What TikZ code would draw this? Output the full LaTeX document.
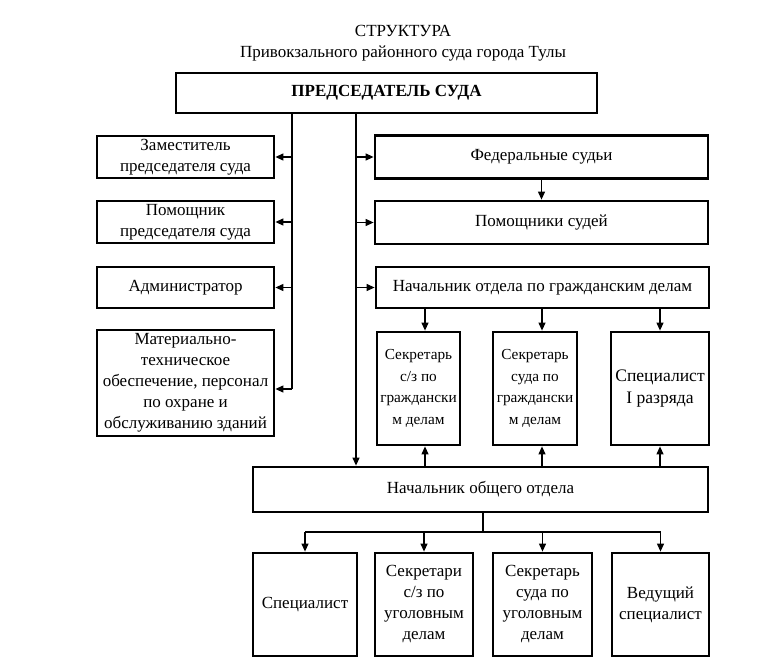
\documentclass[tikz,border=0pt]{standalone}
\usepackage{fontspec}
\setmainfont{Liberation Serif}
\usetikzlibrary{arrows.meta,positioning,calc}

\begin{document}
\begin{tikzpicture}[
    x=1pt, y=-1pt,
    box/.style={draw, line width=2.8pt, align=center, inner sep=1pt, font=\fontsize{17}{21}\selectfont},
    narrow/.style={font=\fontsize{15.3}{21.5}\selectfont},
    wide/.style={font=\fontsize{17.6}{22}\selectfont},
    conn/.style={line width=1.2pt},
    arr/.style={line width=1.2pt, -{Triangle[length=8pt,width=7pt]}}
]
\useasboundingbox (0,0) rectangle (784,669);
% title
\node[anchor=base, font=\fontsize{17}{20}\selectfont] (title) at (403,37) {СТРУКТУРА};
\node[anchor=base, font=\fontsize{17}{20}\selectfont] (subtitle) at (403,58) {Привокзального районного суда города Тулы};

% top
\node[box, minimum width=421, minimum height=40] (pred) at (386.5,93) {\textbf{ПРЕДСЕДАТЕЛЬ СУДА}};

% left column
\node[box, minimum width=177, minimum height=42] (zam) at (185.5,157) {Заместитель\\председателя суда};
\node[box, minimum width=177, minimum height=42] (pomp) at (185.5,222) {Помощник\\председателя суда};
\node[box, minimum width=177, minimum height=41] (adm) at (185.5,287.5) {Администратор};
\node[box, minimum width=177, minimum height=106] (mat) at (185.5,383) {Материально-\\техническое\\обеспечение, персонал\\по охране и\\обслуживанию зданий};

% right column
\node[box, minimum width=333, minimum height=43] (fed) at (541.5,157) {Федеральные судьи};
\node[box, minimum width=333, minimum height=43] (poms) at (541.5,222.5) {Помощники судей};
\node[box, minimum width=333, minimum height=41] (nachg) at (542.5,287.5) {Начальник отдела по гражданским делам};
\node[box, narrow, minimum width=83, minimum height=113] (sekg1) at (418.5,388.5) {Секретарь\\с/з по\\граждански\\м делам};
\node[box, narrow, minimum width=84, minimum height=113] (sekg2) at (535,388.5) {Секретарь\\суда по\\граждански\\м делам};
\node[box, wide, minimum width=98, minimum height=113] (spec1) at (660,388.5) {Специалист\\I разряда};

% general department
\node[box, minimum width=455, minimum height=45] (obsh) at (480.5,489.5) {Начальник общего отдела};
\node[box, minimum width=104, minimum height=103] (spec) at (305,604.5) {Специалист};
\node[box, minimum width=98, minimum height=103] (sekr1) at (424,604.5) {Секретари\\с/з по\\уголовным\\делам};
\node[box, minimum width=99, minimum height=103] (sekr2) at (542.5,604.5) {Секретарь\\суда по\\уголовным\\делам};
\node[box, minimum width=97, minimum height=103] (ved) at (660.5,604.5) {Ведущий\\специалист};

% trunks
\coordinate (ltop) at (292,113);
\coordinate (lbot) at (292,389);
\coordinate (rtop) at (356,113);
\draw[conn] (ltop) -- (lbot);
\draw[arr] (ltop |- zam) -- (zam.east);
\draw[arr] (ltop |- pomp) -- (pomp.east);
\draw[arr] (ltop |- adm) -- (adm.east);
\draw[arr] (lbot) -- (lbot -| mat.east);
\draw[arr] (rtop) -- (rtop |- obsh.north);
\draw[arr] (rtop |- fed) -- (fed.west);
\draw[arr] (rtop |- poms) -- (poms.west);
\draw[arr] (rtop |- nachg) -- (nachg.west);
\draw[arr] (fed.south -| poms.north) -- (poms.north);

% civil department
\draw[arr] ([xshift=6.5]sekg1.north |- nachg.south) -- ([xshift=6.5]sekg1.north);
\draw[arr] ([xshift=7]sekg2.north |- nachg.south) -- ([xshift=7]sekg2.north);
\draw[arr] (spec1.north |- nachg.south) -- (spec1.north);
\draw[arr] ([xshift=6.5]sekg1.south |- obsh.north) -- ([xshift=6.5]sekg1.south);
\draw[arr] ([xshift=7]sekg2.south |- obsh.north) -- ([xshift=7]sekg2.south);
\draw[arr] (spec1.south |- obsh.north) -- (spec1.south);

% general department branches
\coordinate (fork) at ([xshift=2.5]obsh.south |- 0,532);
\draw[conn] ([xshift=2.5]obsh.south) -- (fork);
\draw[conn] (fork -| spec.north) -- (fork -| ved.north);
\draw[arr] (fork -| spec.north) -- (spec.north);
\draw[arr] (fork -| sekr1.north) -- (sekr1.north);
\draw[arr] (fork -| sekr2.north) -- (sekr2.north);
\draw[arr] (fork -| ved.north) -- (ved.north);
\end{tikzpicture}
\end{document}
